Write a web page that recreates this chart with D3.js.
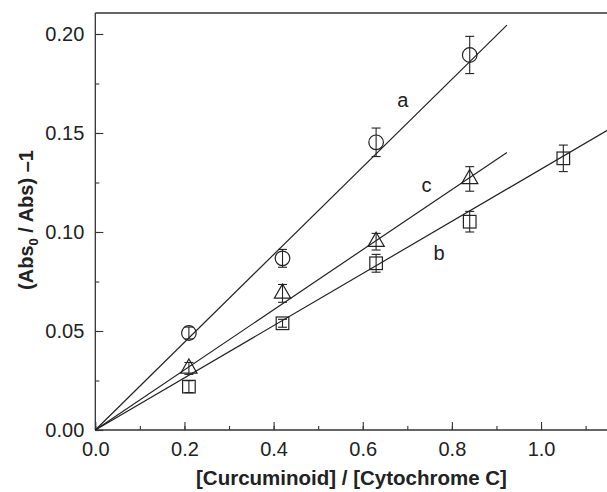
<!DOCTYPE html>
<html>
<head>
<meta charset="utf-8">
<script src="https://cdn.jsdelivr.net/npm/d3@7"></script>
<style>
  body { margin: 0; background: #fff; }
  svg { display: block; font-family: "Liberation Sans", Arial, sans-serif; }
</style>
</head>
<body>
<svg id="chart" width="607" height="492"></svg>
<script>
// concentration ratios
const xA = [0.21, 0.42, 0.63, 0.84];
const xB = [0.21, 0.42, 0.63, 0.84, 1.05];
const xC = [0.21, 0.42, 0.63, 0.84];

// series a (circles)
const yA = [0.049, 0.0867, 0.1453, 0.1894];
const errA = [0.003, 0.0045, 0.0072, 0.0094];
// series b (squares)
const yB = [0.0219, 0.0539, 0.0842, 0.1052, 0.1372];
const errB = [0.003, 0.002, 0.0045, 0.0052, 0.0067];
// series c (triangles)
const yC = [0.0311, 0.069, 0.0951, 0.1268];
const errC = [0.003, 0.0045, 0.0042, 0.0062];

// fitted lines through origin: [xEnd, yEnd]
const fitA = [0.9235, 0.2045];
const fitB = [1.15, 0.1515];
const fitC = [0.9235, 0.1402];

const xTicks = [0.0, 0.2, 0.4, 0.6, 0.8, 1.0];
const yTicks = [0.00, 0.05, 0.10, 0.15, 0.20];

const svg = d3.select('#chart');
const mLeft = 95.3, mRight = 607, mTop = 13, mBottom = 430;

const x = d3.scaleLinear().domain([0, 1.148]).range([mLeft, mRight]);
const y = d3.scaleLinear().domain([0, 0.2106]).range([mBottom, mTop]);

const axisColor = '#333';
const textColor = '#222';

// frame (top and left visible)
svg.append('line').attr('x1', mLeft).attr('x2', mRight).attr('y1', mTop).attr('y2', mTop)
    .attr('stroke', axisColor).attr('stroke-width', 1.3);

// x axis, ticks inward
const gx = svg.append('g').attr('transform', 'translate(0,' + mBottom + ')')
    .call(d3.axisTop(x).tickValues(d3.range(0, 1.15, 0.1)).tickSize(4).tickFormat(''));
svg.append('g').attr('transform', 'translate(0,' + mBottom + ')')
    .call(d3.axisTop(x).tickValues(xTicks).tickSize(8).tickFormat(''))
    .call(g => g.select('.domain').remove());
svg.append('g').attr('transform', 'translate(0,' + mBottom + ')')
    .call(d3.axisBottom(x).tickValues(xTicks).tickSize(0).tickPadding(12).tickFormat(d3.format('.1f')))
    .call(g => g.select('.domain').remove())
    .selectAll('text').attr('font-size', 20).attr('fill', textColor).attr('font-family', null);

const gy = svg.append('g').attr('transform', 'translate(' + mLeft + ',0)')
    .call(d3.axisRight(y).tickValues(d3.range(0, 0.21, 0.025)).tickSize(4).tickFormat(''));
svg.append('g').attr('transform', 'translate(' + mLeft + ',0)')
    .call(d3.axisRight(y).tickValues(yTicks).tickSize(8).tickFormat(''))
    .call(g => g.select('.domain').remove());
svg.append('g').attr('transform', 'translate(' + mLeft + ',0)')
    .call(d3.axisLeft(y).tickValues(yTicks).tickSize(0).tickPadding(11).tickFormat(d3.format('.2f')))
    .call(g => g.select('.domain').remove())
    .selectAll('text').attr('font-size', 20).attr('fill', textColor).attr('font-family', null);

svg.selectAll('.domain').attr('stroke', axisColor).attr('stroke-width', 1.3);
svg.selectAll('.tick line').attr('stroke', axisColor).attr('stroke-width', 1.1);
gx.selectAll('.domain').attr('d', 'M' + mLeft + ',0H' + mRight);
gy.selectAll('.domain').attr('d', 'M0,' + mTop + 'V' + mBottom);

// fit lines
[fitA, fitB, fitC].forEach(function (f) {
    svg.append('line')
        .attr('x1', x(0)).attr('y1', y(0))
        .attr('x2', x(f[0])).attr('y2', y(f[1]))
        .attr('stroke', textColor).attr('stroke-width', 1.2);
});

function errorBars(xs, ys, es) {
    const g = svg.append('g').attr('stroke', textColor).attr('stroke-width', 1.1);
    xs.forEach(function (xv, i) {
        const cx = x(xv), y1 = y(ys[i] + es[i]), y2 = y(ys[i] - es[i]);
        g.append('line').attr('x1', cx).attr('x2', cx).attr('y1', y1).attr('y2', y2);
        g.append('line').attr('x1', cx - 4.5).attr('x2', cx + 4.5).attr('y1', y1).attr('y2', y1);
        g.append('line').attr('x1', cx - 4.5).attr('x2', cx + 4.5).attr('y1', y2).attr('y2', y2);
    });
}

errorBars(xA, yA, errA);
errorBars(xB, yB, errB);
errorBars(xC, yC, errC);

const markStyle = function (sel) {
    sel.attr('fill', 'none').attr('stroke', textColor).attr('stroke-width', 1.2);
};

svg.append('g').selectAll('circle').data(xA).join('circle')
    .attr('cx', d => x(d)).attr('cy', (d, i) => y(yA[i])).attr('r', 7.3)
    .call(markStyle);

svg.append('g').selectAll('rect').data(xB).join('rect')
    .attr('x', d => x(d) - 6.3).attr('y', (d, i) => y(yB[i]) - 6.3)
    .attr('width', 12.6).attr('height', 12.6)
    .call(markStyle);

const tri = d3.symbol().type(d3.symbolTriangle).size(115);
svg.append('g').selectAll('path').data(xC).join('path')
    .attr('d', tri)
    .attr('transform', (d, i) => 'translate(' + x(d) + ',' + y(yC[i]) + ')')
    .call(markStyle);

// curve labels
const labels = [['a', 0.69, 0.1665], ['c', 0.743, 0.1235], ['b', 0.771, 0.0895]];
svg.append('g').selectAll('text').data(labels).join('text')
    .attr('x', d => x(d[1])).attr('y', d => y(d[2]))
    .attr('text-anchor', 'middle').attr('dominant-baseline', 'central')
    .attr('font-size', 20).attr('fill', textColor)
    .text(d => d[0]);

// axis titles
svg.append('text')
    .attr('x', 351.5).attr('y', 485)
    .attr('text-anchor', 'middle').attr('font-size', 20.5).attr('font-weight', 'bold').attr('fill', textColor)
    .text('[Curcuminoid] / [Cytochrome C]');

const yt = svg.append('text')
    .attr('transform', 'translate(32.5,220) rotate(-90)')
    .attr('text-anchor', 'middle').attr('font-size', 20).attr('font-weight', 'bold').attr('fill', textColor);
yt.append('tspan').text('(Abs');
yt.append('tspan').attr('font-size', 13).attr('dy', 5).text('0');
yt.append('tspan').attr('dy', -5).text(' / Abs) \u20131');
</script>
</body>
</html>
